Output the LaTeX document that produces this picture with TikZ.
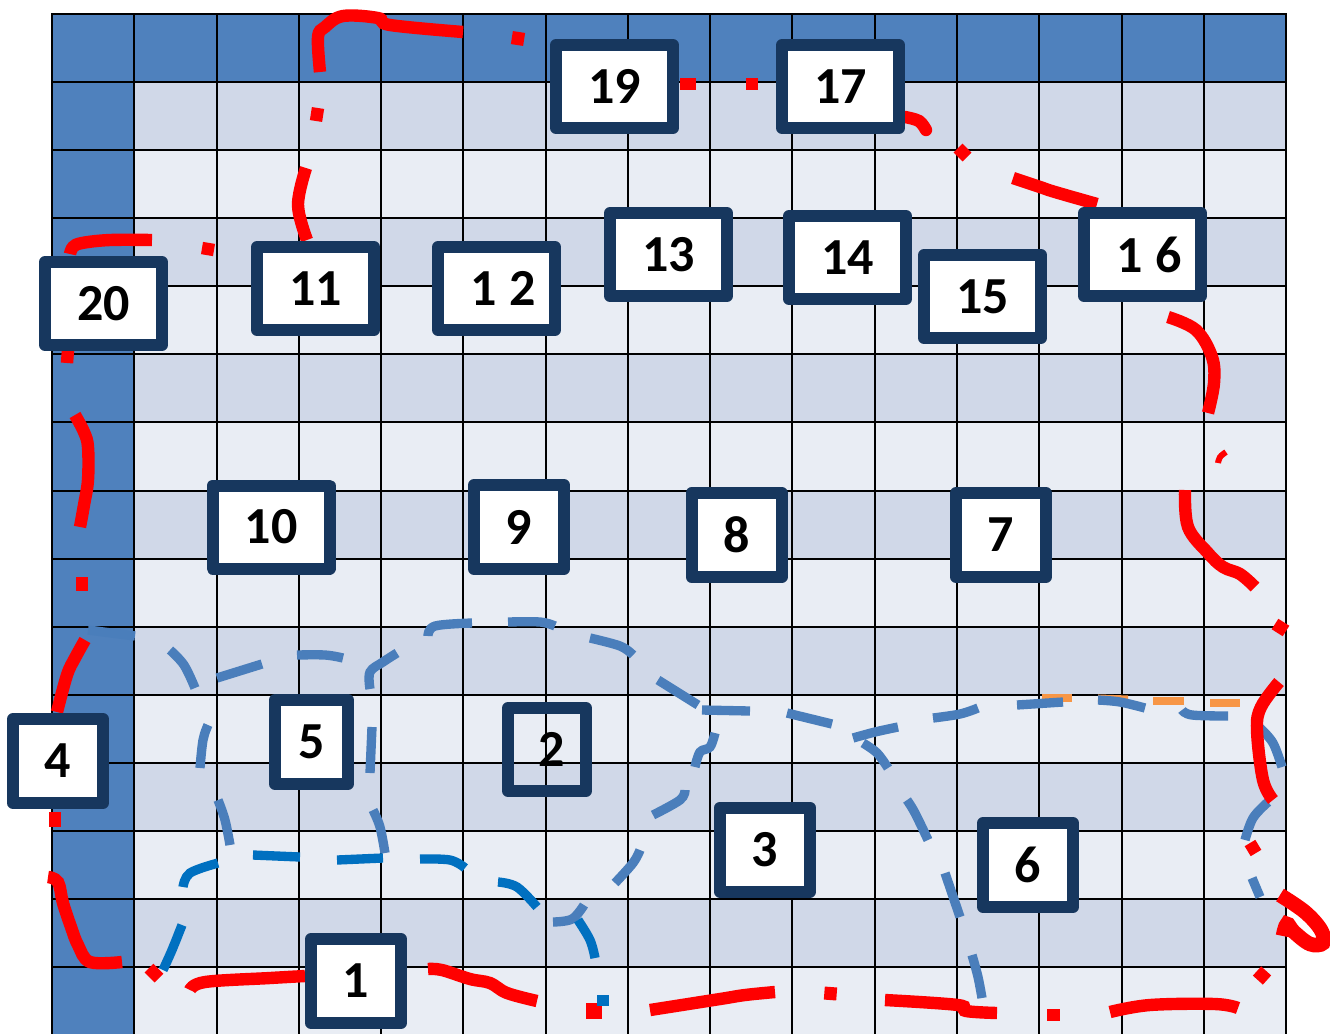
\documentclass[tikz,border=0pt]{standalone}
\usepackage{fontspec}
\setmainfont{Carlito}
\definecolor{darkcell}{RGB}{79,129,189}
\definecolor{bandA}{RGB}{208,216,232}
\definecolor{bandB}{RGB}{233,237,244}
\definecolor{navy}{RGB}{23,55,94}
\definecolor{inkred}{RGB}{255,0,0}
\definecolor{inkblue}{RGB}{74,126,187}
\definecolor{inkblueB}{RGB}{0,112,192}
\definecolor{inkorange}{RGB}{247,150,70}
\begin{document}
\begin{tikzpicture}[x=0.75pt,y=-0.75pt,
  gridl/.style={draw=black,line width=1.5pt},
  numbox/.style={draw=navy,line width=9pt,line join=round,fill=white,inner sep=0pt,
     font={\fontsize{39}{39}\selectfont\bfseries}},
  wbox/.style={numbox,minimum width=87.75pt,minimum height=62.25pt},
  nbox/.style={numbox,minimum width=67.5pt,minimum height=63pt},
  redink/.style={draw=inkred,line width=9.3pt},
  blueink/.style={draw=inkblue,line width=7pt},
  blueinkB/.style={draw=inkblueB,line width=7pt},
  orangeink/.style={draw=inkorange,line width=5.3pt},
  sm/.style={smooth,tension=0.6}]
\useasboundingbox (0,0) rectangle (1330,1033);
% ---- table ----
\begin{scope}
\clip (0,0) rectangle (1330,1033);
\fill[bandB] (52,14) rectangle (1286,1035);
\foreach \r in {1,3,...,13}
  \fill[bandA] (52,{14+68.07*\r}) rectangle (1286,{14+68.07*(\r+1)});
\fill[darkcell] (52,14) rectangle (1286,82.07);
\fill[darkcell] (52,14) rectangle (134.27,1035);
\foreach \c in {0,...,15}
  \draw[gridl] ({52+82.27*\c},14) -- ({52+82.27*\c},1036);
\foreach \r in {0,...,15}
  \draw[gridl] (51.25,{14+68.07*\r}) -- (1286.75,{14+68.07*\r});
\end{scope}
% ---- orange dashes ----
\draw[orangeink] (1042,698) -- (1072,698);
\draw[orangeink] (1098,698) -- (1128,699);
\draw[orangeink] (1153,701) -- (1184,701);
\draw[orangeink] (1210,703) -- (1240,703);
% ---- light blue dashes ----
\draw[blueink] (88,630) -- (135,636);
\draw[blueink] plot[sm] coordinates {(170,650) (184,665) (195,688)};
\draw[blueink] (217,678) -- (262,664);
\draw[blueink] plot[sm] coordinates {(297,655) (325,655) (343,658)};
\draw[blueink] plot[sm] coordinates {(370,689) (370,672) (383,662) (397,653)};
\draw[blueink] plot[sm] coordinates {(428,636) (435,626) (472,623)};
\draw[blueink] plot[sm] coordinates {(508,622) (540,622) (555,626)};
\draw[blueink] plot[sm] coordinates {(590,638) (620,646) (633,655)};
\draw[blueink] (658,680) -- (698,705);
\draw[blueink] (702,710) -- (750,711);
\draw[blueink] (787,713) -- (832,724);
\draw[blueink] plot[sm] coordinates {(853,738) (875,732) (898,727)};
\draw[blueink] plot[sm] coordinates {(933,718) (960,714) (978,708)};
\draw[blueink] (1017,705) -- (1063,702);
\draw[blueink] plot[sm] coordinates {(1098,700) (1120,702) (1145,708)};
\draw[blueink] plot[sm] coordinates {(1182,710) (1192,715) (1228,716)};
\draw[blueink] plot[sm] coordinates {(1260,728) (1273,743) (1282,767)};
\draw[blueink] plot[sm] coordinates {(1268,802) (1253,818) (1245,840)};
\draw[blueink] (1252,878) -- (1260,897);
\draw[blueink] plot[sm] coordinates {(715,733) (710,747) (700,752) (695,767)};
\draw[blueink] plot[sm] coordinates {(685,790) (680,800) (653,815)};
\draw[blueink] plot[sm] coordinates {(640,850) (633,863) (615,883)};
\draw[blueink] plot[sm] coordinates {(584,905) (572,919) (553,922)};
\draw[blueink] plot[sm] coordinates {(863,743) (877,753) (888,768)};
\draw[blueink] plot[sm] coordinates {(907,800) (915,813) (928,840)};
\draw[blueink] (945,873) -- (960,917);
\draw[blueink] plot[sm] coordinates {(972,955) (978,977) (982,998)};
\draw[blueink] plot[sm] coordinates {(208,725) (203,740) (200,768)};
\draw[blueink] plot[sm] coordinates {(218,800) (225,820) (230,845)};
\draw[blueink] (372,727) -- (370,773);
\draw[blueink] plot[sm] coordinates {(373,810) (380,827) (385,853)};
% ---- bright blue dashes ----
\draw[blueinkB] plot[sm] coordinates {(163,970) (172,950) (182,925)};
\draw[blueinkB] plot[sm] coordinates {(183,887) (190,873) (218,863)};
\draw[blueinkB] (253,855) -- (300,857);
\draw[blueinkB] (337,860) -- (383,858);
\draw[blueinkB] plot[sm] coordinates {(420,859) (450,860) (465,868)};
\draw[blueinkB] plot[sm] coordinates {(498,882) (517,887) (537,907)};
\draw[blueinkB] plot[sm] coordinates {(578,920) (590,940) (595,958)};
% ---- red ink ----
\draw[redink] plot[sm] coordinates {(306,168) (298,205) (307,240)};
\draw[redink] (318,108) -- (316,121);
\draw[redink] plot[sm] coordinates {(320,72) (318,37) (325,27) (343,16) (378,18) (390,25) (463,32)};
\draw[redink] (519,32) -- (517,45);
\draw[redink] (680,84) -- (696,84);
\draw[redink] (746,84) -- (758,84);
\draw[redink,line cap=round] plot[sm] coordinates {(905,117) (919,121) (926,130)};
\draw[redink] (958,148) -- (967,157);
\draw[redink] plot[sm] coordinates {(1013,178) (1040,187) (1055,192) (1097,204)};
\draw[redink] plot[sm] coordinates {(1168,317) (1196,330) (1212,357) (1214,383) (1208,413)};
\draw[draw=inkred,line width=4.5pt] plot[sm] coordinates {(1218,463) (1220,457) (1226,452)};
\draw[redink] plot[sm] coordinates {(1185,490) (1188,527) (1208,553) (1223,567) (1240,574) (1255,587)};
\draw[redink] (1275,624) -- (1286,631);
\draw[redink] plot[sm] coordinates {(1279,682) (1261,707) (1257,730) (1263,780) (1273,800)};
\draw[redink] (1250,843) -- (1256,853);
\draw[redink,line width=11pt] plot[sm] coordinates {(1280,895) (1305,912) (1321,930) (1323,943) (1310,944) (1294,932) (1287,924) (1283,936)};
\draw[redink] (1257,971) -- (1267,980);
\draw[redink] plot[sm] coordinates {(1238,1008) (1215,1004) (1150,1005) (1110,1012)};
\draw[redink] (1047,1015) -- (1060,1015);
\draw[redink] plot[sm] coordinates {(997,1013) (966,1011) (958,1005) (885,1000)};
\draw[redink] (831,987) -- (830,1000);
\draw[redink] plot[sm] coordinates {(775,992) (745,995) (720,999) (650,1010)};
\fill[inkred] (586,1003) rectangle (602,1019);
\fill[inkblueB] (597,995) rectangle (609,1006);
\draw[redink] plot[sm] coordinates {(537,1001) (507,993) (490,983) (470,979) (442,970) (428,969)};
\draw[redink] plot[sm] coordinates {(305,976) (270,978) (205,982) (190,990)};
\draw[redink] (149,968) -- (159,978);
\draw[redink] plot[sm] coordinates {(122,962) (90,962) (78,945) (71,927) (63,903) (58,882) (48,877)};
\draw[redink] (55,812) -- (55,827);
\draw[redink] plot[sm] coordinates {(57,712) (67,675) (75,658) (85,640)};
\draw[redink] (82,577) -- (82,591);
\draw[redink] plot[sm] coordinates {(80,527) (84,505) (88,480) (88,447) (84,432) (75,415)};
\draw[redink] (68,350) -- (67,363);
\draw[redink] plot[sm] coordinates {(70,254) (73,247) (82,243) (110,240) (152,240)};
\draw[redink] (202,248) -- (214,250);
% ---- numbered boxes ----
\node[wbox] (b20) at (103.5,303.5) {20};
\node[wbox] (b11) at (315.5,288.5) {11};
\node[wbox] (b12) at (496.5,288.5) {\hspace{10pt}1 2};
\node[wbox] (b19) at (614.5,86.5) {19};
\node[wbox] (b17) at (840.5,86.5) {17};
\node[wbox] (b13) at (668.5,254.5) {13};
\node[wbox] (b14) at (847.5,257.5) {14};
\node[wbox] (b15) at (982.5,296.5) {15};
\node[wbox] (b16) at (1142.5,254.5) {\hspace{10pt}1 6};
\node[wbox] (b10) at (271,527) {10};
\node[nbox] (b9) at (519,527) {9};
\node[nbox] (b8) at (736.5,535) {8};
\node[nbox] (b7) at (1001,535) {7};
\node[nbox] (b4) at (58,761) {4};
\node[numbox,minimum width=54.75pt,minimum height=63pt] (b5) at (311.5,742) {5};
\node[nbox] (b1) at (356,981) {1};
\node[numbox,fill=none,minimum width=58.5pt,minimum height=62.25pt] (b2) at (547,749.5) {\hspace{7pt}2};
\node[nbox] (b3) at (765,849.5) {3};
\node[nbox] (b6) at (1028,865) {6};
\end{tikzpicture}
\end{document}
